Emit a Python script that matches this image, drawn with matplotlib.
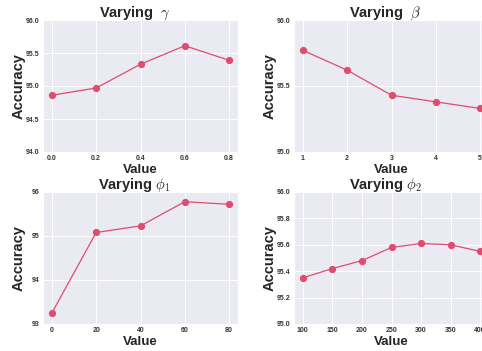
import numpy as np
import matplotlib
matplotlib.use("Agg")
import matplotlib.pyplot as plt
import seaborn as sns

sns.set_style("darkgrid")
plt.rcParams['font.family'] = ['Liberation Sans', 'DejaVu Sans']
plt.rcParams['mathtext.fontset'] = 'cm'

# values
gamma_x = [0.0, 0.2, 0.4, 0.6, 0.8]
gamma_acc = [94.86, 94.97, 95.33, 95.61, 95.39]

beta_x = [1, 2, 3, 4, 5]
beta_acc = [95.77, 95.62, 95.43, 95.38, 95.33]

phi1_x = [0, 20, 40, 60, 80]
phi1_acc = [93.25, 95.08, 95.23, 95.78, 95.72]

phi2_x = [100, 150, 200, 250, 300, 350, 400]
phi2_acc = [95.35, 95.42, 95.48, 95.58, 95.61, 95.60, 95.55]

titles = ["Varying  $\\gamma$", "Varying  $\\beta$", "Varying $\\phi_1$", "Varying $\\phi_2$"]
xs = [gamma_x, beta_x, phi1_x, phi2_x]
ys = [gamma_acc, beta_acc, phi1_acc, phi2_acc]
yticks = [np.arange(94.0, 96.01, 0.5), np.arange(95.0, 96.01, 0.5),
          [93, 94, 95, 96], np.arange(95.0, 96.01, 0.2)]
ylims = [(94.0, 96.0), (95.0, 96.0), (93.0, 96.0), (95.0, 96.0)]
yfmt = ["{:.1f}", "{:.1f}", "{:.0f}", "{:.1f}"]
xfmt = ["{:.1f}", "{:d}", "{:d}", "{:d}"]

color = '#DE4D6D'

fig = plt.figure(figsize=(4.82, 3.51), dpi=100)
w, h = 195 / 482, 132 / 351
positions = [(43 / 482, 1 - 152 / 351), (294 / 482, 1 - 152 / 351),
             (43 / 482, 1 - 324 / 351), (294 / 482, 1 - 324 / 351)]

for i in range(4):
    ax = fig.add_axes([positions[i][0], positions[i][1], w, h])
    ax.grid(True, color='white', linewidth=0.7)
    ax.plot(xs[i], ys[i], color=color, lw=0.9, marker='o', markersize=4.2)
    ax.set_ylim(*ylims[i])
    ax.set_yticks(yticks[i])
    ax.set_yticklabels([yfmt[i].format(v) for v in yticks[i]])
    ax.set_xticks(xs[i])
    ax.set_xticklabels([xfmt[i].format(v) for v in xs[i]])
    ax.tick_params(labelsize=5, labelcolor='#333333', length=0, pad=2.5)
    for lab in ax.get_xticklabels() + ax.get_yticklabels():
        lab.set_fontweight('bold')
    ax.set_title(titles[i], fontsize=10.5, fontweight='bold', pad=2, x=0.47)
    ax.set_xlabel("Value", fontsize=9.5, fontweight='bold')
    ax.set_ylabel("Accuracy", fontsize=10.5, fontweight='bold')
    ax.yaxis.set_label_coords(-0.088, 0.5)
    ax.xaxis.set_label_coords(0.5, -0.09)

fig.savefig("out.png", dpi=100)
